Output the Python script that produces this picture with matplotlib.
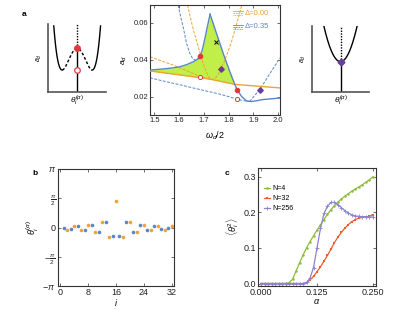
import numpy as np
import matplotlib
matplotlib.use("Agg")
import matplotlib.pyplot as plt
from matplotlib.lines import Line2D

plt.rcParams['font.family'] = ['Liberation Sans', 'DejaVu Sans']
plt.rcParams['mathtext.fontset'] = 'custom'
plt.rcParams['mathtext.rm'] = 'Liberation Sans'
plt.rcParams['mathtext.it'] = 'Liberation Sans:italic'
plt.rcParams['mathtext.bf'] = 'Liberation Sans:bold'

# ---------------- data: panel a (centre) ----------------
blue_solid_left_x = [1.482, 1.535, 1.570, 1.603, 1.630, 1.657, 1.672, 1.684, 1.692, 1.700, 1.711, 1.719, 1.725]
blue_solid_left_y = [0.0344, 0.0350, 0.0355, 0.0362, 0.0373, 0.0389, 0.0401, 0.0418, 0.0445, 0.0490, 0.0560, 0.0610, 0.0647]
blue_solid_right_x = [1.725, 1.751, 1.778, 1.805, 1.826, 1.835, 1.853, 1.873, 1.893, 1.940, 2.008]
blue_solid_right_y = [0.0647, 0.0543, 0.0435, 0.0335, 0.0263, 0.0236, 0.0200, 0.0176, 0.0173, 0.0184, 0.0192]
orange_solid_x = [1.482, 1.600, 1.720, 1.826, 2.008]
orange_solid_y = [0.0339, 0.0318, 0.0296, 0.0266, 0.0247]
blue_dash_a_x = [1.592, 1.606, 1.616, 1.630, 1.643, 1.655, 1.665, 1.677, 1.685]
blue_dash_a_y = [0.0720, 0.0635, 0.0578, 0.0489, 0.0435, 0.0405, 0.0397, 0.0403, 0.0418]
blue_dash_b_x = [1.482, 1.550, 1.600, 1.700, 1.750, 1.800, 1.835, 1.860, 1.885]
blue_dash_b_y = [0.0302, 0.0280, 0.0265, 0.0233, 0.0218, 0.0200, 0.0186, 0.0178, 0.0173]
blue_dash_c_x = [1.885, 1.927, 1.960, 2.008]
blue_dash_c_y = [0.0173, 0.0240, 0.0310, 0.0410]
orange_dash_d_x = [1.630, 1.645, 1.660, 1.675, 1.690, 1.705, 1.718, 1.730, 1.745, 1.760, 1.768, 1.785, 1.810, 1.830, 1.858]
orange_dash_d_y = [0.0720, 0.0630, 0.0550, 0.0480, 0.0410, 0.0350, 0.0310, 0.0292, 0.0298, 0.0325, 0.0348, 0.0398, 0.0490, 0.0580, 0.0720]
orange_dash_e_x = [1.482, 1.576, 1.640, 1.684, 1.730]
orange_dash_e_y = [0.0416, 0.0371, 0.0335, 0.0308, 0.0292]
red_filled_x = [1.685, 1.835]
red_filled_y = [0.0418, 0.0236]
red_open_x = [1.684, 1.835]
red_open_y = [0.0308, 0.0186]
purple_x = [1.768, 1.927]
purple_y = [0.0348, 0.0238]
cross_x = [1.751]
cross_y = [0.0494]
legend_labels = ['Δ=0.00', 'Δ=0.35']

# ---------------- data: panel b ----------------
i_blue = [1, 3, 5, 7, 9, 11, 13, 15, 17, 19, 21, 23, 25, 27, 29, 31]
theta_blue = [0.0, -0.054, 0.054, -0.125, 0.143, -0.232, 0.32, -0.464,
              -0.464, 0.32, -0.232, 0.143, -0.125, 0.054, -0.054, 0.0]
i_orange = [2, 4, 6, 8, 10, 12, 14, 16, 18, 20, 22, 24, 26, 28, 30, 32]
theta_orange = [-0.125, 0.107, -0.16, 0.16, -0.232, 0.303, -0.518, 1.43,
                -0.518, 0.303, -0.232, 0.16, -0.16, 0.107, -0.125, 0.07]

# ---------------- data: panel c ----------------
alpha = np.linspace(0, 0.25, 33)
theta2_N4 = [0, 0, 0, 0, 0, 0, 0, 0, 0.002, 0.012, 0.035, 0.058, 0.080, 0.100, 0.118, 0.134,
             0.150, 0.165, 0.180, 0.195, 0.208, 0.219, 0.229, 0.238, 0.246, 0.253, 0.260,
             0.266, 0.272, 0.278, 0.285, 0.292, 0.300]
theta2_N32 = [0, 0, 0, 0, 0, 0, 0, 0, 0, 0, 0, 0, 0, 0.002, 0.010, 0.020, 0.033, 0.047,
              0.063, 0.079, 0.097, 0.115, 0.131, 0.144, 0.156, 0.166, 0.174, 0.180, 0.184,
              0.186, 0.187, 0.189, 0.194]
theta2_N256 = [0, 0, 0, 0, 0, 0, 0, 0, 0, 0, 0, 0, 0, 0.003, 0.015, 0.045, 0.100, 0.155,
               0.197, 0.218, 0.228, 0.228, 0.222, 0.213, 0.205, 0.198, 0.193, 0.190, 0.189,
               0.188, 0.188, 0.187, 0.187]
series_labels = ['N=4', 'N=32', 'N=256']

BLUE = '#5a86c6'
ORANGE = '#eea237'
FILL = '#c0ef4a'
RED = '#e0393b'
PURPLE = '#6a3d9a'
C_GREEN = '#8cbd3a'
C_RED = '#f15a2b'
C_PURP = '#8c82d2'
SPINE = '#333333'

W, H = 415, 310
fig = plt.figure(figsize=(W / 100, H / 100), dpi=100)


def rect(x0, y0, x1, y1):
    return [x0 / W, 1 - y1 / H, (x1 - x0) / W, (y1 - y0) / H]


def frame_style(ax, fs=5):
    ax.tick_params(direction='in', length=2, width=0.5, labelsize=fs, pad=1.5,
                   top=True, right=True, colors=SPINE, labelcolor='#222222')
    for s in ax.spines.values():
        s.set_linewidth(0.8)
        s.set_color(SPINE)


# ---------------- centre panel ----------------
ax = fig.add_axes(rect(150, 5, 280, 115))
xs = np.linspace(1.482, 2.0, 800)
upper = np.where(xs <= 1.725, np.interp(xs, blue_solid_left_x, blue_solid_left_y),
                 np.interp(xs, blue_solid_right_x, blue_solid_right_y))
lower = np.interp(xs, orange_solid_x, orange_solid_y)
ax.fill_between(xs, lower, upper, where=upper > lower, interpolate=True,
                color=FILL, lw=0, zorder=1)
dash = (0, (3, 1.5))
ax.plot(blue_dash_a_x, blue_dash_a_y, color=BLUE, lw=0.7, ls=dash, zorder=2)
ax.plot(blue_dash_b_x, blue_dash_b_y, color=BLUE, lw=0.7, ls=dash, zorder=2)
ax.plot(blue_dash_c_x, blue_dash_c_y, color=BLUE, lw=0.7, ls=dash, zorder=2)
ax.plot(orange_dash_d_x, orange_dash_d_y, color=ORANGE, lw=0.7, ls=dash, zorder=2)
ax.plot(orange_dash_e_x, orange_dash_e_y, color=ORANGE, lw=0.7, ls=dash, zorder=2)
ax.plot(orange_solid_x, orange_solid_y, color=ORANGE, lw=1.0, zorder=3)
ax.plot(blue_solid_left_x, blue_solid_left_y, color=BLUE, lw=1.0, zorder=3)
ax.plot(blue_solid_right_x, blue_solid_right_y, color=BLUE, lw=1.0, zorder=3)
ax.plot(red_filled_x, red_filled_y, 'o', color=RED, ms=3, zorder=5)
ax.plot(red_open_x, red_open_y, 'o', mfc='white', mec=RED, mew=0.7, ms=3, zorder=5)
ax.plot(purple_x, purple_y, 'D', color=PURPLE, ms=2.8, zorder=5)
ax.plot(cross_x, cross_y, 'x', color='black', ms=2.5, mew=0.7, zorder=5)
ax.set_xlim(1.482, 2.008)
ax.set_ylim(0.01, 0.0697)
ax.set_xticks([1.5, 1.6, 1.7, 1.8, 1.9, 2.0])
ax.set_yticks([0.02, 0.04, 0.06])
ax.set_yticklabels(['0.02', '0.04', '0.06'])
frame_style(ax, 5.5)
ax.set_xlabel(r'$\omega_d/2$', fontsize=6.5, labelpad=4)
ax.set_ylabel(r'$a_d$', fontsize=6, labelpad=3)
# custom legend
for k, (lab, col) in enumerate(zip(legend_labels, [ORANGE, BLUE])):
    yc = 0.925 - k * 0.122
    for j, st in enumerate(['-', (0, (2, 1)), (0, (1, 1))]):
        ax.add_line(Line2D([0.638, 0.715], [yc + 0.018 - j * 0.018] * 2, transform=ax.transAxes,
                           color=col, lw=0.6, ls=st))
    ax.text(0.73, yc, lab, transform=ax.transAxes, color=col, fontsize=5.5, va='center')

fig.text(21.7 / W, 1 - 15 / H, 'a', fontsize=6, fontweight='bold', va='center')

# ---------------- left schematic ----------------
axl = fig.add_axes(rect(48.3, 24, 106, 91.7))
u = np.linspace(-0.405, 0.405, 300)
yw = 0.64 - 9.46 * u ** 2 + 70 * u ** 4
inner = np.abs(u) <= 0.26
axl.plot(0.5 + u[u <= -0.26], yw[u <= -0.26], color='black', lw=1.0)
axl.plot(0.5 + u[u >= 0.26], yw[u >= 0.26], color='black', lw=1.0)
axl.plot(0.5 + u[inner], yw[inner], color='black', lw=1.0, ls=(0, (2, 1.5)))
axl.plot([0.5, 0.5], [0, 0.64], color='black', lw=1.0)
axl.plot([0.5, 0.5], [0.64, 1.0], color='black', lw=1.0, ls=(0, (1, 1)))
axl.plot([0.5], [0.64], 'o', color=RED, ms=4)
axl.plot([0.5], [0.32], 'o', mfc='white', mec=RED, mew=0.9, ms=4)
axl.set_xlim(0, 1)
axl.set_ylim(0, 1.0)
axl.set_xticks([])
axl.set_yticks([])
for s in ['top', 'right']:
    axl.spines[s].set_visible(False)
for s in ['left', 'bottom']:
    axl.spines[s].set_linewidth(1.2)
    axl.spines[s].set_color('#555555')
axl.set_xlabel(r'$\theta_i^{(\alpha)}$', fontsize=6, labelpad=1)
axl.set_ylabel(r'$a_d$', fontsize=5, labelpad=3)

# ---------------- right schematic ----------------
axr = fig.add_axes(rect(311.7, 25.7, 369.3, 92.3))
u2 = np.linspace(-0.29, 0.29, 200)
axr.plot(0.5 + u2, 0.46 + 6.42 * u2 ** 2, color='black', lw=1.0)
axr.plot([0.5, 0.5], [0, 0.46], color='black', lw=1.0)
axr.plot([0.5, 0.5], [0.46, 1.0], color='black', lw=1.0, ls=(0, (1, 1)))
axr.plot([0.5], [0.46], 'D', color=PURPLE, ms=3.5)
axr.set_xlim(0, 1)
axr.set_ylim(0, 1.0)
axr.set_xticks([])
axr.set_yticks([])
for s in ['top', 'right']:
    axr.spines[s].set_visible(False)
for s in ['left', 'bottom']:
    axr.spines[s].set_linewidth(1.2)
    axr.spines[s].set_color('#555555')
axr.set_xlabel(r'$\theta_i^{(\alpha)}$', fontsize=6, labelpad=1)
axr.set_ylabel(r'$a_d$', fontsize=5, labelpad=3)

# ---------------- panel b ----------------
axb = fig.add_axes(rect(58, 169, 174, 286))
axb.plot(i_blue, theta_blue, 'o', color=BLUE, ms=2.6, mew=0)
axb.plot(i_orange, theta_orange, 'o', color=ORANGE, ms=2.6, mew=0)
axb.set_xlim(-0.6, 32.6)
axb.set_ylim(-np.pi, np.pi)
axb.set_xticks([0, 8, 16, 24, 32])
axb.set_yticks([-np.pi, -np.pi / 2, 0, np.pi / 2, np.pi])
axb.set_yticklabels([r'$-\pi$', r'$-\frac{\pi}{2}$', '0', r'$\frac{\pi}{2}$', r'$\pi$'])
frame_style(axb, 6.5)
axb.set_xlabel(r'$i$', fontsize=6.5, labelpad=0)
axb.set_ylabel(r'$\theta_i^{(\alpha)}$', fontsize=6.5, labelpad=1)
fig.text(32 / W, 1 - 173.3 / H, 'b', fontsize=6, fontweight='bold', va='center')

# ---------------- panel c ----------------
axc = fig.add_axes(rect(258, 168, 376, 286))
axc.plot(alpha, theta2_N4, '-o', color=C_GREEN, lw=0.9, ms=1.8, mew=0, label=series_labels[0])
axc.plot(alpha, theta2_N32, '-s', color=C_RED, lw=0.9, ms=1.6, mew=0, label=series_labels[1])
axc.plot(alpha, theta2_N256, '-+', color=C_PURP, lw=0.9, ms=2.5, mew=0.6, label=series_labels[2])
axc.set_xlim(-0.007, 0.257)
axc.set_ylim(-0.007, 0.325)
axc.set_xticks([0, 0.125, 0.25])
axc.set_xticklabels(['0.000', '0.125', '0.250'])
axc.set_yticks([0, 0.1, 0.2, 0.3])
axc.set_yticklabels(['0.0', '0.1', '0.2', '0.3'])
frame_style(axc, 6.5)
axc.set_xlabel(r'$\alpha$', fontsize=6.5, labelpad=0)
axc.set_ylabel(r'$\langle\theta_i^2\rangle$', fontsize=6.5, labelpad=2)
axc.legend(loc='upper left', bbox_to_anchor=(0.03, 0.88), fontsize=5, frameon=False,
           handlelength=0.8, handletextpad=0.3, labelspacing=0.45, borderaxespad=0.0,
           markerscale=1.0)
fig.text(224.3 / W, 1 - 173.3 / H, 'c', fontsize=6, fontweight='bold', va='center')

fig.savefig('out.png', dpi=100)
